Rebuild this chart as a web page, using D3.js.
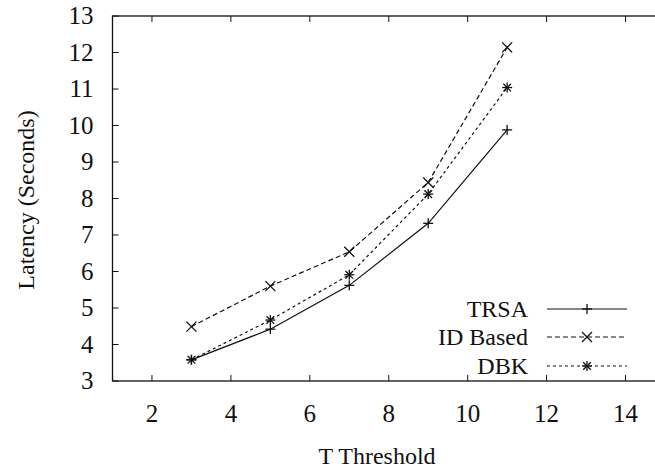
<!DOCTYPE html>
<html lang="en">
  <head>
    <meta charset="UTF-8" />
    <title>Latency vs T Threshold</title>
    <script src="https://d3js.org/d3.v7.min.js"></script>
    <style>
      body {
        margin: 0;
        background: #fff;
      }
      svg {
        display: block;
      }
      svg text {
        font-family: "Liberation Serif", "Times New Roman", Times, "DejaVu Serif", serif;
        fill: #111;
      }
      .tick-label {
        font-size: 25px;
      }
      .axis-title {
        font-size: 24px;
      }
      .legend-text {
        font-size: 24px;
      }
    </style>
  </head>
  <body>
    <div id="chart"></div>
    <script>
      // data
      const thresholds = [3, 5, 7, 9, 11];
      const trsa = [3.58, 4.42, 5.62, 7.32, 9.88];
      const idBased = [4.49, 5.6, 6.54, 8.44, 12.14];
      const dbk = [3.58, 4.67, 5.91, 8.12, 11.04];
      const seriesNames = ["TRSA", "ID Based", "DBK"];
      const xTicks = [2, 4, 6, 8, 10, 12, 14];
      const yTicks = [3, 4, 5, 6, 7, 8, 9, 10, 11, 12, 13];

      const W = 655,
        H = 470;
      // plot frame; right edge falls outside the picture (cropped like the original)
      const plotLeft = 112.5,
        plotRight = 665,
        plotTop = 16,
        plotBottom = 381;

      const svg = d3
        .select("#chart")
        .append("svg")
        .attr("width", W)
        .attr("height", H);

      const x = d3.scaleLinear().domain([1, 15]).range([plotLeft, plotRight]);
      const y = d3.scaleLinear().domain([3, 13]).range([plotBottom, plotTop]);

      const ink = "#111";

      // frame
      svg
        .append("rect")
        .attr("x", plotLeft)
        .attr("y", plotTop)
        .attr("width", plotRight - plotLeft)
        .attr("height", plotBottom - plotTop)
        .attr("fill", "none")
        .attr("stroke", ink)
        .attr("stroke-width", 1.3);

      // inward ticks, bottom and top
      const tickLen = 6;
      xTicks.forEach((t) => {
        svg
          .append("line")
          .attr("x1", x(t))
          .attr("x2", x(t))
          .attr("y1", plotBottom)
          .attr("y2", plotBottom - tickLen)
          .attr("stroke", ink);
        svg
          .append("line")
          .attr("x1", x(t))
          .attr("x2", x(t))
          .attr("y1", plotTop)
          .attr("y2", plotTop + tickLen)
          .attr("stroke", ink);
        svg
          .append("text")
          .attr("class", "tick-label")
          .attr("x", x(t))
          .attr("y", plotBottom + 41)
          .attr("text-anchor", "middle")
          .text(t);
      });

      yTicks.forEach((t) => {
        svg
          .append("line")
          .attr("x1", plotLeft)
          .attr("x2", plotLeft + tickLen)
          .attr("y1", y(t))
          .attr("y2", y(t))
          .attr("stroke", ink);
        svg
          .append("text")
          .attr("class", "tick-label")
          .attr("x", plotLeft - 19)
          .attr("y", y(t))
          .attr("dy", "0.33em")
          .attr("text-anchor", "end")
          .text(t);
      });

      // axis titles
      svg
        .append("text")
        .attr("class", "axis-title")
        .attr("x", 377)
        .attr("y", 464)
        .attr("text-anchor", "middle")
        .text("T Threshold");

      svg
        .append("text")
        .attr("class", "axis-title")
        .attr("transform", "translate(34, 200) rotate(-90)")
        .attr("text-anchor", "middle")
        .text("Latency (Seconds)");

      // marker shapes
      function drawMarker(g, kind, cx, cy) {
        const s = 5;
        const parts = [];
        if (kind === "plus" || kind === "star") {
          parts.push([cx - s, cy, cx + s, cy], [cx, cy - s, cx, cy + s]);
        }
        if (kind === "cross" || kind === "star") {
          const d = kind === "star" ? 3.8 : 5;
          parts.push(
            [cx - d, cy - d, cx + d, cy + d],
            [cx - d, cy + d, cx + d, cy - d]
          );
        }
        parts.forEach((p) => {
          g.append("line")
            .attr("x1", p[0])
            .attr("y1", p[1])
            .attr("x2", p[2])
            .attr("y2", p[3])
            .attr("stroke", ink)
            .attr("stroke-width", 1.3);
        });
      }

      const series = [
        { name: seriesNames[0], values: trsa, dash: null, marker: "plus" },
        { name: seriesNames[1], values: idBased, dash: "5,3", marker: "cross" },
        { name: seriesNames[2], values: dbk, dash: "3,3", marker: "star" },
      ];

      const line = d3
        .line()
        .x((d) => x(d[0]))
        .y((d) => y(d[1]));

      series.forEach((s) => {
        const pts = thresholds.map((t, i) => [t, s.values[i]]);
        svg
          .append("path")
          .attr("d", line(pts))
          .attr("fill", "none")
          .attr("stroke", ink)
          .attr("stroke-width", 1.2)
          .attr("stroke-dasharray", s.dash);
        const g = svg.append("g");
        pts.forEach((p) => drawMarker(g, s.marker, x(p[0]), y(p[1])));
      });

      // legend
      const legendY = [309, 337, 366];
      series.forEach((s, i) => {
        const ly = legendY[i];
        svg
          .append("text")
          .attr("class", "legend-text")
          .attr("x", 528)
          .attr("y", ly)
          .attr("dy", "0.33em")
          .attr("text-anchor", "end")
          .text(s.name);
        svg
          .append("line")
          .attr("x1", 547)
          .attr("x2", 627)
          .attr("y1", ly)
          .attr("y2", ly)
          .attr("stroke", ink)
          .attr("stroke-width", 1.2)
          .attr("stroke-dasharray", s.dash);
        drawMarker(svg.append("g"), s.marker, 587, ly);
      });
    </script>
  </body>
</html>
